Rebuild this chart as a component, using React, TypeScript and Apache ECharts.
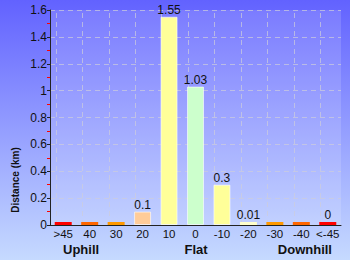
import React, { useEffect, useRef } from "react";
import * as echarts from "echarts";

const categories = [">45", "40", "30", "20", "10", "0", "-10", "-20", "-30", "-40", "<-45"];
const distances = [0, 0, 0, 0.1, 1.55, 1.03, 0.3, 0.01, 0, 0, 0];
const barColors = ["#ff0000", "#ff6600", "#ff9900", "#ffcc99", "#ffff99", "#ccffcc", "#ffff99", "#ffffcc", "#ff9900", "#ff6600", "#ff0000"];
const labelShown = [false, false, false, true, true, true, true, true, false, false, true];
const yMin = 0;
const yMax = 1.6;
const yStep = 0.2;
const yName = "Distance (km)";
const groupLabels = ["Uphill", "Flat", "Downhill"];

const FONT = "'Liberation Sans', Arial, sans-serif";
const GRID_LINE = { color: "rgba(205,205,220,0.7)", type: [5, 4] as number[], width: 1 };

export default function App() {
  const ref = useRef<HTMLDivElement>(null);
  useEffect(() => {
    if (!ref.current) return;
    const chart = echarts.init(ref.current, undefined, { renderer: "svg" });
    chart.setOption({
      animation: false,
      backgroundColor: {
        type: "linear", x: 0, y: 0, x2: 0, y2: 1,
        colorStops: [
          { offset: 0, color: "#6262ff" },
          { offset: 1, color: "#c6daff" },
        ],
      },
      grid: {
        left: 50, right: 9, top: 10, bottom: 35,
        show: true, backgroundColor: "rgba(255,255,255,0.14)", borderWidth: 0,
      },
      xAxis: {
        type: "category",
        data: categories,
        axisLine: { lineStyle: { color: "#222", width: 1 } },
        axisTick: { alignWithLabel: true, length: 3, lineStyle: { color: "#222" } },
        axisLabel: { interval: 0, color: "#111", fontSize: 11.5, fontFamily: FONT, margin: 3 },
        splitLine: { show: false },
      },
      yAxis: {
        type: "value",
        min: yMin, max: yMax, interval: yStep,
        axisLine: { show: true, lineStyle: { color: "#222", width: 1 } },
        axisTick: { show: true, length: 3, lineStyle: { color: "#222" } },
        minorTick: { show: true, splitNumber: 2, length: 3, lineStyle: { color: "#ff0000" } },
        axisLabel: { color: "#111", fontSize: 12, fontFamily: FONT, margin: 3 },
        splitLine: { show: true, lineStyle: GRID_LINE },
      },
      series: [
        {
          type: "bar",
          z: 1,
          data: [],
          silent: true,
          markLine: {
            silent: true,
            z: 1,
            symbol: "none",
            label: { show: false },
            lineStyle: GRID_LINE,
            emphasis: { disabled: true },
            data: categories.map((c) => ({ xAxis: c })),
          },
        },
        {
          type: "bar",
          z: 3,
          barWidth: 17,
          barMinHeight: 3,
          barGap: "-100%",
          data: distances.map((v, i) => ({
            value: v,
            itemStyle: { color: barColors[i], borderColor: "rgba(255,255,255,0.6)", borderWidth: v > 0.05 ? 1 : 0 },
            label: { show: labelShown[i] },
          })),
          label: {
            position: "top", distance: 1, color: "#111", fontSize: 12, fontFamily: FONT,
          },
        },
      ],
      graphic: [
        {
          type: "text", x: 15, y: 180, rotation: Math.PI / 2,
          style: { text: yName, font: `bold 10px ${FONT}`, fill: "#111", align: "center", verticalAlign: "middle" },
        },
        {
          type: "text", x: 63, y: 249.5,
          style: { text: groupLabels[0], font: `bold 13px ${FONT}`, fill: "#111", align: "left", verticalAlign: "middle" },
        },
        {
          type: "text", x: 196, y: 249.5,
          style: { text: groupLabels[1], font: `bold 13px ${FONT}`, fill: "#111", align: "center", verticalAlign: "middle" },
        },
        {
          type: "text", x: 332, y: 249.5,
          style: { text: groupLabels[2], font: `bold 13px ${FONT}`, fill: "#111", align: "right", verticalAlign: "middle" },
        },
      ],
    });
    return () => chart.dispose();
  }, []);
  return <div ref={ref} style={{ position: "fixed", left: 0, top: 0, width: 350, height: 260 }} />;
}
